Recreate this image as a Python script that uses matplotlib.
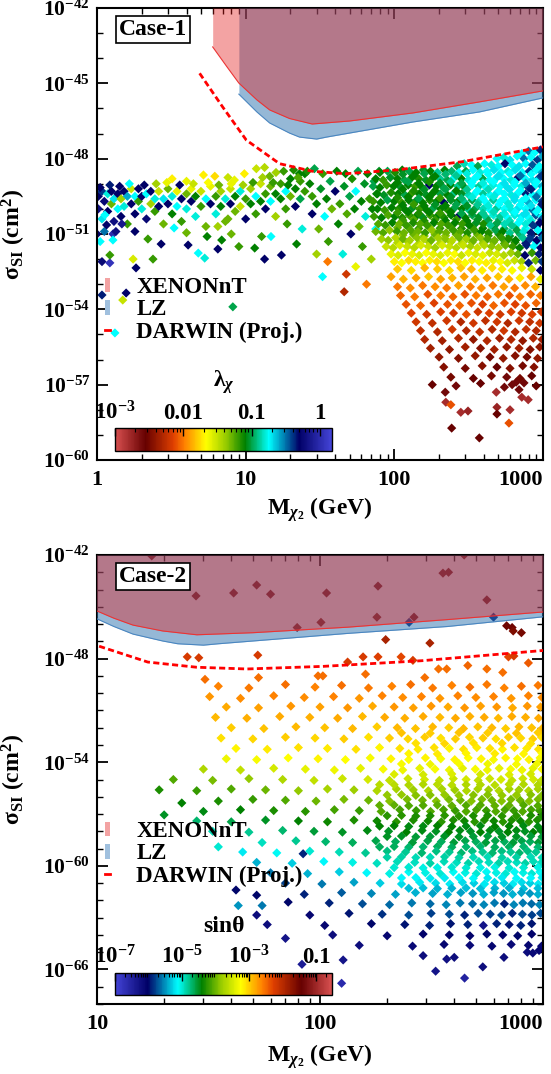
import numpy as np
import matplotlib
matplotlib.use("Agg")
import matplotlib.pyplot as plt
from matplotlib.colors import LinearSegmentedColormap, LogNorm
from matplotlib.cm import ScalarMappable
from matplotlib.patches import Patch
from matplotlib.lines import Line2D
from matplotlib.ticker import FixedLocator, LogLocator, NullFormatter

# ---------------- curves: mass (GeV), log10 sigma (cm^2) ----------------
xenon_m = [6.0, 7.5, 9.0, 11.9, 14.5, 19.7, 28, 50, 133, 373, 1000]
xenon_e = [-43.55, -44.35, -44.99, -45.66, -46.06, -46.4, -46.62, -46.5, -46.18, -45.74, -45.3]
lz_m = [9.0, 11.9, 14.5, 19.7, 23, 30, 35, 133, 373, 1000]
lz_e = [-45.43, -46.14, -46.58, -46.98, -47.14, -47.22, -47.14, -46.54, -46.14, -45.58]
darwin_m = [4.9, 7.0, 10.1, 16.9, 28, 47, 103, 287, 1000]
darwin_e = [-44.6, -45.94, -47.26, -48.2, -48.5, -48.6, -48.45, -48.12, -47.53]

# ---------------- Case-1 points: (mass GeV, log10 sigma, log10 lambda) ----------------
c1_band_top = [(3.2,-48.8,-1.7),(4.0,-48.9,-1.6),(5.2,-48.65,-1.7),(6.2,-48.7,-1.75),(7.6,-48.75,-1.5),(8.4,-48.85,-1.6),
    (9.8,-48.6,-1.7),(11.8,-48.4,-1.5),(13.4,-48.35,-1.45),(14.5,-48.7,-1.3),(16,-48.55,-1.4),(18,-48.5,-1.2),(21,-48.45,-1.15),(23,-48.6,-1.1)]
c1_band = [(1.02,-49.5,-0.3),(1.02,-50.0,-0.2),(1.08,-49.3,-0.4),(1.08,-50.4,-0.7),(1.12,-49.7,-0.25),(1.12,-50.9,-0.5),
    (1.18,-49.4,-0.8),(1.18,-50.1,-0.3),(1.25,-49.8,-1.3),(1.25,-49.3,-0.3),(1.3,-49.6,-0.7),(1.3,-50.5,-0.2),
    (1.38,-49.4,-0.3),(1.38,-50.0,-0.75),(1.45,-49.6,-1.4),(1.45,-50.3,-0.3),(1.52,-49.3,-0.3),(1.52,-49.9,-0.8),
    (1.6,-49.5,-0.6),(1.6,-50.6,-1.2),(1.7,-49.8,-0.3),(1.7,-49.2,-1.5),(1.8,-49.5,-0.75),(1.8,-50.2,-0.3),
    (1.9,-49.7,-1.2),(1.9,-49.2,-0.3),(2.0,-49.5,-0.3),(2.0,-50.0,-0.8),(2.15,-49.4,-0.75),(2.15,-50.4,-0.25),
    (2.3,-49.8,-1.4),(2.3,-49.3,-0.3),(2.45,-49.6,-0.8),(2.45,-50.1,-1.2),(2.6,-49.3,-1.5),(2.6,-49.9,-0.3),
    (2.8,-49.6,-0.7),(2.8,-50.6,-1.3),(3.0,-49.2,-1.3),(3.0,-49.8,-0.3),(3.2,-49.5,-0.8),(3.2,-50.2,-1.1),
    (3.45,-49.3,-1.6),(3.45,-49.9,-0.75),(3.7,-49.6,-0.3),(3.7,-50.5,-1.2),(4.0,-49.4,-1.3),(4.0,-50.0,-0.8),
    (4.3,-49.2,-1.6),(4.3,-49.7,-0.3),(4.6,-49.5,-1.1),(4.6,-50.3,-0.8),(5.0,-49.3,-1.5),(5.0,-49.9,-1.2),
    (5.4,-49.6,-0.75),(5.4,-50.7,-1.3),(5.8,-49.1,-1.6),(5.8,-49.8,-0.3),(6.3,-49.5,-1.2),(6.3,-50.2,-0.8),
    (6.8,-49.3,-1.4),(6.8,-49.9,-1.1),(7.3,-49.6,-0.8),(7.3,-50.5,-1.3),(7.9,-49.2,-1.5),(7.9,-49.8,-0.3),
    (8.5,-49.5,-1.1),(8.5,-50.1,-1.3),(9.2,-49.3,-0.8),(9.2,-49.9,-1.5),(10,-49.6,-1.2),(10,-50.4,-0.3),
    (10.8,-49.2,-1.4),(10.8,-49.8,-1.1),(11.7,-49.5,-0.75),(11.7,-50.2,-1.2),(12.6,-49.0,-1.5),(12.6,-49.7,-1.1),
    (13.6,-49.4,-1.2),(13.6,-50.0,-0.3),(14.7,-49.1,-1.3),(14.7,-49.7,-0.75),(15.9,-49.4,-1.1),(15.9,-50.3,-1.4),
    (17.2,-49.0,-1.2),(17.2,-49.6,-1.1),(18.6,-49.3,-0.75),(18.6,-50.0,-1.2),(20,-48.8,-1.1),(20,-49.5,-1.3),
    (21.6,-49.2,-1.1),(21.6,-49.9,-0.3),(23.3,-48.9,-1.2),(23.3,-49.6,-1.0),(25,-48.6,-1.1),(25,-49.3,-1.2),
    (1.05,-49.15,-0.3),(1.22,-49.05,-0.35),(1.42,-49.1,-0.3),(1.65,-49.0,-0.75),(2.08,-49.05,-0.3),(2.5,-49.0,-1.4),
    (2.95,-48.95,-1.6),(3.6,-49.05,-0.3),(4.45,-49.0,-1.5),(5.6,-48.95,-1.65),(6.6,-49.05,-1.3),(8.0,-49.0,-1.6),
    (9.6,-49.05,-1.4),(11.2,-48.95,-1.2),(13.0,-48.75,-1.4),(15.3,-48.95,-1.2),(19.3,-49.05,-1.1),(22.5,-48.75,-1.25)]
c1_band_low = [(1.13,-50.24,-0.75),(1.16,-50.64,-0.3),(1.0,-51.0,-0.3),(1.47,-50.6,-0.15),(1.28,-51.0,0.0),(1.34,-50.9,-0.2),
    (4.8,-51.76,-0.75),(5.3,-51.96,-0.8),(4.1,-51.44,-0.3),(6.5,-51.6,-0.3),(3.3,-50.76,-0.75),(4.0,-50.95,-1.3),
    (5.5,-51.1,-1.1),(6.9,-51.24,-1.1),(8.0,-51.0,-1.3),(11.5,-51.56,-1.1),(13.4,-52.0,-0.3),(17.4,-51.84,-0.3),
    (14.8,-51.1,-0.75),(12.8,-51.1,-1.2),(6.5,-50.7,-1.4),(7.6,-50.4,-1.3),(2.2,-51.2,-1.2),(2.7,-51.4,-0.3),
    (9.0,-51.5,-1.2),(19,-50.6,-1.2),(22,-51.4,-1.1),(24,-50.8,-0.8),(1.05,-51.3,-0.75),(1.8,-50.9,-0.3)]
c1_outliers = [(1.08,-52.1,-0.25),(1.22,-52.15,0.05),(1.22,-51.84,-1.2),(1.28,-51.24,-0.75),(1.75,-52.0,-1.55),
    (2.38,-52.0,-1.2),(1.83,-52.35,-0.3),(1.08,-53.43,-0.35),(1.57,-53.35,-0.3),(1.49,-53.63,-1.5),(8.2,-53.9,-1.0),(1.32,-54.94,-0.75)]
c1_mid = [(26,-48.5,-1.15),(27,-49.0,-1.1),(28,-49.5,-1.2),(28,-50.2,-0.3),(29,-48.4,-1.0),(30,-49.8,-1.1),(31,-50.8,-1.3),
    (32,-49.2,-1.05),(33,-48.6,-1.2),(34,-50.3,-0.75),(35,-49.6,-1.1),(36,-51.3,-1.2),(37,-48.9,-1.0),(38,-50.0,-1.3),
    (40,-49.3,-0.3),(41,-48.5,-1.1),(42,-50.6,-1.1),(43,-49.8,-1.2),(45,-51.8,-0.8),(46,-49.1,-1.05),(47,-48.6,-1.1),
    (48,-50.2,-1.25),(50,-49.5,-1.0),(51,-51.0,-0.3),(52,-48.8,-1.15),(54,-50.0,-1.1),(55,-49.3,-0.75),(57,-48.5,-1.0),
    (58,-50.7,-1.3),(60,-49.7,-1.1),(61,-51.5,-1.2),(63,-49.0,-1.05),(64,-50.3,-0.8),(66,-48.6,-1.1),(68,-49.6,-1.2),
    (70,-52.0,-1.4),(71,-50.0,-1.1),(73,-48.9,-1.0),(75,-50.8,-0.75),(77,-49.4,-1.1),(79,-48.5,-1.05),
    (32.9,-52.7,-0.75),(47.5,-52.6,-2.2),(46,-53.3,-2.3),(35.6,-52.1,-2.0),(30,-51.8,-1.4),(55,-52.3,-1.6),(65,-53.0,-2.0)]
c1_cloud_upper = [(720,-47.8,-0.75),(800,-47.7,-0.5),(880,-47.75,-0.75),(960,-47.65,-0.35),
    (490,-48.0,-0.75),(545,-47.95,-0.8),(600,-48.05,-0.7),(670,-47.9,-0.75),(745,-48.0,-0.5),(830,-47.95,-0.75),(920,-48.05,-0.4),(990,-47.9,-0.6),
    (265,-48.3,-1.0),(295,-48.2,-0.85),(330,-48.25,-0.75),(365,-48.3,-1.0),(405,-48.2,-0.75),(450,-48.25,-0.8),(500,-48.3,-0.75),
    (555,-48.2,-0.3),(620,-48.25,-0.75),(690,-48.3,-0.7),(765,-48.2,-0.75),(850,-48.25,-0.45),(945,-48.3,-0.75),
    (80,-48.55,-1.1),(90,-48.5,-1.0),(101,-48.55,-1.15),(113,-48.45,-1.1),(126,-48.5,-1.0),(140,-48.55,-1.1),(157,-48.45,-1.05),
    (175,-48.5,-1.1),(195,-48.55,-0.9),(218,-48.45,-1.1),(243,-48.5,-0.95),(272,-48.55,-0.75),(303,-48.5,-1.0),(338,-48.45,-0.75),
    (377,-48.55,-0.8),(420,-48.5,-0.75),(468,-48.45,-0.7),(522,-48.55,-0.75),(582,-48.5,-0.8),(650,-48.45,-0.7),(725,-48.55,-0.75),
    (808,-48.5,-0.4),(900,-48.45,-0.75),(985,-48.55,-0.6),
    (75,-48.8,-1.1),(84,-48.85,-1.2),(94,-48.75,-1.05),(105,-48.8,-1.1),(117,-48.85,-1.0),(131,-48.75,-1.1),(146,-48.8,-1.15),
    (163,-48.85,-1.05),(182,-48.75,-1.1),(203,-48.8,-0.9),(227,-48.85,-1.0),(253,-48.75,-0.75),(283,-48.8,-1.1),(316,-48.85,-0.8),
    (352,-48.75,-0.75),(393,-48.8,-1.0),(438,-48.85,-0.75),(489,-48.75,-0.7),(546,-48.8,-0.75),(609,-48.85,-0.8),(680,-48.75,-0.3),
    (759,-48.8,-0.75),(847,-48.85,-0.7),(945,-48.75,-0.45),
    (72,-49.1,-1.0),(80,-49.15,-1.1),(89,-49.05,-1.2),(99,-49.1,-1.1),(111,-49.15,-1.05),(124,-49.05,-1.1),(138,-49.1,-1.2),
    (154,-49.15,-1.1),(172,-49.05,-0.3),(192,-49.1,-1.1),(214,-49.15,-1.0),(239,-49.05,-1.1),(267,-49.1,-0.9),(298,-49.15,-1.05),
    (333,-49.05,-0.75),(371,-49.1,-0.9),(414,-49.15,-0.75),(462,-49.05,-0.8),(516,-49.1,-0.75),(576,-49.15,-0.7),(643,-49.05,-0.75),
    (717,-49.1,-0.8),(800,-49.15,-0.4),(893,-49.05,-0.75),(985,-49.1,-0.6)]
c1_cloud_mid = [(76,-49.4,-1.1),(85,-49.45,-1.05),(95,-49.35,-1.15),(106,-49.4,-1.1),(118,-49.45,-1.0),(132,-49.35,-1.2),
    (147,-49.4,-1.1),(164,-49.45,-1.05),(183,-49.35,-1.1),(204,-49.4,-1.0),(228,-49.45,-1.1),(254,-49.35,-0.9),(284,-49.4,-1.05),
    (317,-49.45,-0.85),(354,-49.35,-0.75),(395,-49.4,-0.9),(440,-49.45,-0.75),(491,-49.35,-0.7),(548,-49.4,-0.75),(612,-49.45,-0.8),
    (683,-49.35,-0.75),(762,-49.4,-0.35),(850,-49.45,-0.75),(948,-49.35,-0.7),
    (72,-49.7,-1.2),(81,-49.75,-1.1),(90,-49.65,-1.0),(100,-49.7,-1.1),(112,-49.75,-1.2),(125,-49.65,-1.1),(139,-49.7,-1.05),
    (155,-49.75,-1.1),(173,-49.65,-1.15),(193,-49.7,-1.1),(215,-49.75,-0.3),(240,-49.65,-1.05),(268,-49.7,-1.1),(299,-49.75,-0.9),
    (334,-49.65,-1.0),(372,-49.7,-0.85),(415,-49.75,-0.75),(463,-49.65,-0.9),(517,-49.7,-0.75),(577,-49.75,-0.8),(644,-49.65,-0.7),
    (718,-49.7,-0.75),(801,-49.75,-0.6),(894,-49.65,-0.75),(985,-49.7,-0.4),
    (77,-50.0,-1.1),(86,-50.05,-1.2),(96,-49.95,-1.1),(107,-50.0,-1.15),(119,-50.05,-1.1),(133,-49.95,-1.05),(148,-50.0,-1.2),
    (165,-50.05,-1.1),(184,-49.95,-1.0),(205,-50.0,-1.1),(229,-50.05,-1.15),(255,-49.95,-1.0),(285,-50.0,-1.1),(318,-50.05,-0.9),
    (355,-49.95,-1.0),(396,-50.0,-0.85),(442,-50.05,-0.75),(493,-49.95,-0.9),(550,-50.0,-0.75),(614,-50.05,-0.8),(685,-49.95,-0.7),
    (764,-50.0,-0.75),(853,-50.05,-0.5),(951,-49.95,-0.75),
    (73,-50.3,-1.2),(82,-50.35,-1.1),(91,-50.25,-1.25),(101,-50.3,-1.1),(113,-50.35,-1.15),(126,-50.25,-1.2),(140,-50.3,-1.1),
    (156,-50.35,-1.05),(174,-50.25,-1.2),(194,-50.3,-1.1),(216,-50.35,-1.15),(241,-50.25,-1.1),(269,-50.3,-0.3),(300,-50.35,-1.1),
    (335,-50.25,-1.0),(373,-50.3,-1.05),(416,-50.35,-0.9),(464,-50.25,-0.8),(518,-50.3,-0.9),(578,-50.35,-0.75),(645,-50.25,-0.8),
    (719,-50.3,-0.7),(802,-50.35,-0.75),(895,-50.25,-0.45),(985,-50.3,-0.75)]
c1_cloud_fill = [(114,-48.62,-1.05),(135,-48.68,-1.1),(159,-48.6,-1.0),(188,-48.7,-1.1),(221,-48.62,-0.95),(261,-48.68,-0.9),
    (308,-48.6,-0.8),(363,-48.7,-0.75),(429,-48.62,-0.75),(506,-48.68,-0.7),(597,-48.6,-0.75),(705,-48.68,-0.5),(832,-48.62,-0.75),(980,-48.68,-0.4),
    (105,-48.95,-1.1),(124,-48.92,-1.0),(146,-48.98,-1.1),(172,-48.93,-1.15),(203,-48.97,-1.05),(240,-48.92,-0.9),(283,-48.98,-1.0),
    (334,-48.93,-0.75),(394,-48.97,-0.8),(465,-48.92,-0.75),(549,-48.98,-0.7),(648,-48.93,-0.75),(765,-48.97,-0.6),(903,-48.92,-0.75),
    (114,-49.22,-1.1),(135,-49.28,-1.15),(159,-49.23,-1.05),(188,-49.27,-1.1),(221,-49.22,-1.0),(261,-49.28,-1.1),(308,-49.23,-0.9),
    (363,-49.27,-0.75),(429,-49.22,-0.85),(506,-49.28,-0.75),(597,-49.23,-0.7),(705,-49.27,-0.75),(832,-49.22,-0.35),(980,-49.28,-0.75),
    (105,-49.55,-1.15),(124,-49.52,-1.1),(146,-49.58,-1.0),(172,-49.53,-1.1),(203,-49.57,-1.2),(240,-49.52,-1.05),(283,-49.58,-0.95),
    (334,-49.53,-0.8),(394,-49.57,-0.75),(465,-49.52,-0.8),(549,-49.58,-0.75),(648,-49.53,-0.7),(765,-49.57,-0.75),(903,-49.52,-0.5),
    (114,-49.85,-1.1),(135,-49.82,-1.2),(159,-49.88,-1.1),(188,-49.83,-1.05),(221,-49.87,-1.1),(261,-49.82,-1.0),(308,-49.88,-1.05),
    (363,-49.83,-0.9),(429,-49.87,-0.8),(506,-49.82,-0.75),(597,-49.88,-0.8),(705,-49.83,-0.75),(832,-49.87,-0.7),(980,-49.82,-0.35),
    (105,-50.15,-1.2),(124,-50.12,-1.1),(146,-50.18,-1.15),(172,-50.13,-1.1),(203,-50.17,-1.2),(240,-50.12,-1.1),(283,-50.18,-1.0),
    (334,-50.13,-1.05),(394,-50.17,-0.9),(465,-50.12,-0.85),(549,-50.18,-0.8),(648,-50.13,-0.75),(765,-50.17,-0.7),(903,-50.12,-0.75),
    (114,-50.45,-1.2),(135,-50.42,-1.25),(159,-50.48,-1.15),(188,-50.43,-1.2),(221,-50.47,-1.1),(261,-50.42,-1.2),(308,-50.48,-1.1),
    (363,-50.43,-1.05),(429,-50.47,-1.0),(506,-50.42,-0.9),(597,-50.48,-0.85),(705,-50.43,-0.75),(832,-50.47,-0.8),(980,-50.42,-0.45),
    (105,-50.75,-1.3),(124,-50.72,-1.25),(146,-50.78,-1.2),(172,-50.73,-1.3),(203,-50.77,-1.2),(240,-50.72,-1.25),(283,-50.78,-1.15),
    (334,-50.73,-1.2),(394,-50.77,-1.1),(465,-50.72,-1.05),(549,-50.78,-0.95),(648,-50.73,-0.9),(765,-50.77,-0.75),(903,-50.72,-0.35),
    (114,-51.05,-1.35),(135,-51.02,-1.3),(159,-51.08,-1.35),(188,-51.03,-1.3),(221,-51.07,-1.35),(261,-51.02,-1.3),(308,-51.08,-1.25),
    (363,-51.03,-1.3),(429,-51.07,-1.2),(506,-51.02,-1.15),(597,-51.08,-1.05),(705,-51.03,-0.95),(832,-51.07,-0.4),(980,-51.02,-0.3),
    (105,-51.35,-1.45),(124,-51.32,-1.4),(146,-51.38,-1.45),(172,-51.33,-1.4),(203,-51.37,-1.45),(240,-51.32,-1.4),(283,-51.38,-1.45),
    (334,-51.33,-1.35),(394,-51.37,-1.4),(465,-51.32,-1.3),(549,-51.38,-1.25),(648,-51.33,-1.15),(765,-51.37,-0.35),(903,-51.32,-0.75)]
c1_cloud_low = [(78,-50.6,-1.25),(87,-50.65,-1.2),(97,-50.55,-1.1),(108,-50.6,-1.3),(120,-50.65,-1.2),(134,-50.55,-1.15),
    (149,-50.6,-1.25),(166,-50.65,-1.2),(185,-50.55,-1.1),(206,-50.6,-1.25),(230,-50.65,-1.2),(256,-50.55,-1.1),(286,-50.6,-1.2),
    (319,-50.65,-1.1),(356,-50.55,-1.05),(397,-50.6,-1.15),(443,-50.65,-0.9),(494,-50.55,-1.0),(551,-50.6,-0.85),(615,-50.65,-0.9),
    (686,-50.55,-0.75),(765,-50.6,-0.8),(854,-50.65,-0.4),(952,-50.55,-0.3),
    (75,-50.9,-1.3),(84,-50.95,-1.25),(93,-50.85,-1.35),(104,-50.9,-1.2),(116,-50.95,-1.3),(129,-50.85,-1.25),(144,-50.9,-1.3),
    (161,-50.95,-1.2),(179,-50.85,-1.35),(200,-50.9,-1.25),(223,-50.95,-1.3),(249,-50.85,-1.2),(278,-50.9,-1.25),(310,-50.95,-1.15),
    (346,-50.85,-1.2),(386,-50.9,-1.1),(430,-50.95,-1.15),(480,-50.85,-1.0),(535,-50.9,-1.1),(597,-50.95,-0.9),(666,-50.85,-1.0),
    (743,-50.9,-0.8),(829,-50.95,-0.35),(925,-50.85,-0.75),
    (82,-51.2,-1.4),(91,-51.25,-1.35),(102,-51.15,-1.45),(114,-51.2,-1.3),(127,-51.25,-1.4),(142,-51.15,-1.35),(158,-51.2,-1.45),
    (177,-51.25,-1.3),(197,-51.15,-1.4),(220,-51.2,-1.35),(245,-51.25,-1.45),(273,-51.15,-1.3),(305,-51.2,-1.4),(340,-51.25,-1.3),
    (379,-51.15,-1.35),(423,-51.2,-1.25),(472,-51.25,-1.3),(526,-51.15,-1.2),(587,-51.2,-1.15),(655,-51.25,-1.1),(731,-51.15,-0.9),
    (815,-51.2,-0.4),(909,-51.25,-0.3),(985,-51.15,-0.5),
    (88,-51.5,-1.5),(98,-51.55,-1.45),(109,-51.45,-1.55),(122,-51.5,-1.5),(136,-51.55,-1.45),(151,-51.45,-1.55),(169,-51.5,-1.5),
    (188,-51.55,-1.4),(210,-51.45,-1.55),(234,-51.5,-1.5),(261,-51.55,-1.45),(291,-51.45,-1.5),(324,-51.5,-1.4),(362,-51.55,-1.5),
    (403,-51.45,-1.45),(450,-51.5,-1.35),(502,-51.55,-1.4),(559,-51.45,-1.3),(624,-51.5,-1.2),(696,-51.55,-1.1),(776,-51.45,-0.35),
    (866,-51.5,-0.75),(965,-51.55,-0.3),
    (95,-51.8,-1.6),(106,-51.85,-1.55),(118,-51.75,-1.65),(132,-51.8,-1.6),(147,-51.85,-1.55),(164,-51.75,-1.65),(183,-51.8,-1.6),
    (204,-51.85,-1.55),(228,-51.75,-1.6),(254,-51.8,-1.65),(283,-51.85,-1.5),(316,-51.75,-1.6),(352,-51.8,-1.55),(393,-51.85,-1.6),
    (438,-51.75,-1.5),(489,-51.8,-1.55),(545,-51.85,-1.45),(608,-51.75,-1.4),(678,-51.8,-1.3),(756,-51.85,-0.3),(843,-51.75,-1.2),(940,-51.8,-0.35),
    (100,-52.1,-1.7),(112,-52.15,-1.65),(125,-52.05,-1.75),(139,-52.1,-1.7),(155,-52.15,-1.65),(173,-52.05,-1.7),(193,-52.1,-1.75),
    (215,-52.15,-1.65),(240,-52.05,-1.7),(268,-52.1,-1.75),(299,-52.15,-1.65),(333,-52.05,-1.7),(372,-52.1,-1.65),(415,-52.15,-1.7),
    (463,-52.05,-1.6),(516,-52.1,-1.65),(576,-52.15,-1.55),(643,-52.05,-1.5),(717,-52.1,-1.4),(800,-52.15,-0.35),(893,-52.05,-1.3),(985,-52.1,-0.4),
    (105,-52.4,-1.8),(130,-52.45,-1.75),(160,-52.35,-1.85),(195,-52.4,-1.8),(235,-52.45,-1.75),(280,-52.35,-1.8),(330,-52.4,-1.85),
    (390,-52.45,-1.7),(455,-52.35,-1.75),(530,-52.4,-1.7),(620,-52.45,-1.65),(720,-52.35,-1.6),(840,-52.4,-1.5),(960,-52.45,-0.3)]
c1_tail = [(95,-52.7,-1.9),(115,-52.8,-1.85),(140,-52.75,-1.9),(170,-52.7,-1.8),(205,-52.8,-1.9),(245,-52.75,-1.85),(295,-52.7,-1.9),
    (350,-52.8,-1.85),(420,-52.75,-1.9),(500,-52.7,-1.8),(590,-52.8,-1.85),(700,-52.75,-1.7),(830,-52.7,-1.9),(960,-52.8,-1.6),
    (105,-53.1,-2.0),(128,-53.15,-1.95),(155,-53.05,-2.0),(188,-53.1,-1.95),(225,-53.15,-2.0),(270,-53.05,-1.9),(325,-53.1,-2.0),
    (385,-53.15,-1.95),(460,-53.05,-2.0),(545,-53.1,-1.9),(645,-53.15,-2.0),(760,-53.05,-1.95),(890,-53.1,-1.85),
    (110,-53.45,-2.05),(137,-53.5,-2.0),(168,-53.4,-2.1),(205,-53.45,-2.0),(248,-53.5,-2.05),(298,-53.4,-2.1),(355,-53.45,-2.0),
    (422,-53.5,-2.05),(500,-53.4,-2.0),(595,-53.45,-2.1),(700,-53.5,-2.0),(825,-53.4,-2.05),(960,-53.45,-2.0),
    (120,-53.8,-2.1),(150,-53.85,-2.05),(185,-53.75,-2.15),(228,-53.8,-2.1),(275,-53.85,-2.05),(330,-53.75,-2.1),(392,-53.8,-2.15),
    (465,-53.85,-2.05),(550,-53.75,-2.1),(650,-53.8,-2.15),(765,-53.85,-2.1),(900,-53.75,-2.05),
    (130,-54.15,-2.15),(165,-54.2,-2.2),(205,-54.1,-2.15),(250,-54.15,-2.2),(305,-54.2,-2.1),(365,-54.1,-2.2),(435,-54.15,-2.15),
    (515,-54.2,-2.2),(610,-54.1,-2.15),(720,-54.15,-2.2),(845,-54.2,-2.15),(975,-54.1,-2.2),
    (140,-54.5,-2.2),(180,-54.55,-2.25),(225,-54.45,-2.2),(280,-54.5,-2.3),(340,-54.55,-2.2),(410,-54.45,-2.25),(490,-54.5,-2.2),
    (580,-54.55,-2.3),(690,-54.45,-2.2),(815,-54.5,-2.25),(950,-54.55,-2.2),
    (150,-54.85,-2.25),(195,-54.9,-2.3),(245,-54.8,-2.2),(305,-54.85,-2.3),(375,-54.9,-2.25),(455,-54.8,-2.3),(545,-54.85,-2.2),
    (650,-54.9,-2.3),(770,-54.8,-2.25),(900,-54.85,-2.3),
    (160,-55.2,-2.3),(210,-55.25,-2.35),(270,-55.15,-2.3),(340,-55.2,-2.4),(420,-55.25,-2.3),(510,-55.15,-2.35),(610,-55.2,-2.3),
    (730,-55.25,-2.4),(860,-55.15,-2.3),(985,-55.2,-2.35),
    (175,-55.55,-2.35),(235,-55.6,-2.4),(300,-55.5,-2.35),(380,-55.55,-2.45),(470,-55.6,-2.35),(570,-55.5,-2.4),(690,-55.55,-2.35),
    (820,-55.6,-2.45),(950,-55.5,-2.4),
    (200,-55.9,-2.4),(270,-55.95,-2.45),(350,-55.85,-2.4),(440,-55.9,-2.5),(540,-55.95,-2.4),(650,-55.85,-2.45),(780,-55.9,-2.5),(920,-55.95,-2.4),
    (215,-56.3,-2.45),(300,-56.35,-2.5),(390,-56.25,-2.45),(490,-56.3,-2.55),(600,-56.35,-2.45),(730,-56.25,-2.5),(870,-56.3,-2.45),
    (240,-56.7,-2.5),(340,-56.75,-2.55),(450,-56.65,-2.5),(570,-56.7,-2.6),(700,-56.75,-2.5),(840,-56.65,-2.55),
    (180,-57.0,-2.55),(260,-57.05,-2.6),(380,-56.95,-2.55),(620,-57.0,-2.6),(900,-57.05,-2.55),
    (220,-57.3,-2.6),(222,-57.7,-2.8),(240,-57.8,-2.1),(280,-58.1,-2.8),(313,-58.05,-2.75),(243,-58.73,-2.55),(373,-59.12,-2.55),
    (485,-57.3,-2.8),(490,-57.9,-2.75),(490,-58.17,-2.55),(600,-58.0,-2.8),(590,-58.53,-2.1),(550,-57.1,-2.6),(660,-56.9,-2.6),
    (690,-57.2,-2.6),(720,-57.5,-2.8),(745,-56.93,-2.6),(795,-57.6,-2.8)]

# ---------------- Case-2 points: (mass GeV, log10 sigma, log10 sin theta) ----------------
c2_excluded = [(17.6,-42.05,-1.4),(27.8,-44.37,-1.5),(41,-44.2,-1.5),(52,-43.74,-1.5),(60,-44.27,-1.5),(107,-44.2,-1.5),
    (79,-46.2,-1.6),(101,-45.9,-1.6),(182,-43.8,-1.5),(180,-45.6,-1.6),(251,-45.9,-5.9),(264,-45.6,-1.5),(356,-43.05,-1.5),
    (377,-43.0,-1.5),(443,-42.0,-1.5),(560,-44.6,-1.5),(600,-45.6,-5.9),
    (687,-46.1,-1.5),(727,-46.2,-1.5),(735,-46.4,-1.6),(800,-46.5,-1.55),(197,-46.9,-1.9),(311,-47.1,-1.9)]
c2_orange = [(133,-48.2,-2.2),(156,-47.9,-2.2),(182,-47.9,-2.25),(231,-47.9,-2.3),(261,-48.1,-2.2),(700,-47.9,-2.3),
    (740,-47.85,-2.2),(860,-48.25,-2.4),(103,-49.0,-2.5),(160,-48.9,-2.5),(295,-49.1,-2.5),(340,-48.6,-2.5),(370,-48.6,-2.5),
    (460,-48.4,-2.45),(560,-48.6,-2.5),(660,-48.8,-2.5),(25.4,-47.9,-2.2),(28.6,-47.95,-2.2),(52.6,-47.8,-2.2),(30.5,-49.2,-2.5),
    (53,-49.1,-2.5),(98,-49.0,-2.5),
    (35,-49.6,-2.6),(48,-49.7,-2.55),(70,-49.5,-2.5),(95,-49.65,-2.6),(125,-49.55,-2.5),(165,-49.7,-2.55),(210,-49.6,-2.6),
    (255,-49.5,-2.5),(320,-49.7,-2.55),(390,-49.55,-2.6),(470,-49.65,-2.5),(560,-49.5,-2.55),(670,-49.7,-2.6),(800,-49.6,-2.5),(950,-49.55,-2.55),
    (32,-50.2,-2.7),(44,-50.3,-2.65),(62,-50.15,-2.6),(85,-50.25,-2.65),(115,-50.2,-2.6),(150,-50.3,-2.7),(190,-50.15,-2.6),
    (235,-50.25,-2.65),(285,-50.2,-2.6),(345,-50.3,-2.7),(415,-50.15,-2.6),(500,-50.25,-2.65),(600,-50.2,-2.6),(720,-50.3,-2.7),
    (860,-50.15,-2.6),(990,-50.25,-2.65),
    (38,-50.8,-2.8),(53,-50.85,-2.75),(74,-50.75,-2.7),(100,-50.8,-2.75),(133,-50.85,-2.7),(172,-50.75,-2.8),(215,-50.8,-2.7),
    (262,-50.85,-2.75),(315,-50.75,-2.7),(375,-50.8,-2.8),(445,-50.85,-2.7),(525,-50.75,-2.75),(620,-50.8,-2.7),(730,-50.85,-2.8),
    (850,-50.75,-2.7),(975,-50.8,-2.75),
    (34,-51.4,-2.9),(47,-51.45,-2.85),(66,-51.35,-2.8),(90,-51.4,-2.85),(120,-51.45,-2.8),(155,-51.35,-2.9),(195,-51.4,-2.8),
    (240,-51.45,-2.85),(290,-51.35,-2.8),(345,-51.4,-2.9),(405,-51.45,-2.8),(470,-51.35,-2.85),(545,-51.4,-2.8),(630,-51.45,-2.9),
    (725,-51.35,-2.8),(835,-51.4,-2.85),(955,-51.45,-2.8),
    (40,-52.0,-3.0),(56,-52.05,-2.95),(78,-51.95,-2.9),(105,-52.0,-2.95),(140,-52.05,-2.9),(180,-51.95,-3.0),(222,-52.0,-2.9),
    (268,-52.05,-2.95),(320,-51.95,-2.9),(378,-52.0,-3.0),(440,-52.05,-2.9),(510,-51.95,-2.95),(590,-52.0,-2.9),(680,-52.05,-3.0),
    (780,-51.95,-2.9),(890,-52.0,-2.95),(990,-52.05,-2.9)]
c2_yellow = [(36,-52.6,-3.1),(50,-52.65,-3.05),(70,-52.55,-3.0),(95,-52.6,-3.05),(128,-52.65,-3.0),(165,-52.55,-3.1),(205,-52.6,-3.0),
    (248,-52.65,-3.05),(295,-52.55,-3.0),(348,-52.6,-3.1),(405,-52.65,-3.0),(468,-52.55,-3.05),(538,-52.6,-3.0),(615,-52.65,-3.1),
    (700,-52.55,-3.0),(795,-52.6,-3.05),(900,-52.65,-3.0),(985,-52.55,-3.1),
    (42,-53.2,-3.2),(58,-53.25,-3.15),(80,-53.15,-3.1),(108,-53.2,-3.15),(145,-53.25,-3.1),(185,-53.15,-3.2),(228,-53.2,-3.1),
    (275,-53.25,-3.15),(325,-53.15,-3.1),(380,-53.2,-3.2),(440,-53.25,-3.1),(505,-53.15,-3.15),(578,-53.2,-3.1),(658,-53.25,-3.2),
    (745,-53.15,-3.1),(845,-53.2,-3.15),(955,-53.25,-3.1),
    (38,-53.8,-3.35),(52,-53.85,-3.3),(72,-53.75,-3.25),(98,-53.8,-3.2),(130,-53.85,-3.25),(168,-53.75,-3.3),(208,-53.8,-3.2),
    (250,-53.85,-3.25),(297,-53.75,-3.2),(348,-53.8,-3.3),(402,-53.85,-3.2),(462,-53.75,-3.25),(528,-53.8,-3.2),(600,-53.85,-3.3),
    (680,-53.75,-3.2),(768,-53.8,-3.25),(865,-53.85,-3.2),(970,-53.75,-3.3),
    (30,-54.4,-3.7),(44,-54.45,-3.6),(62,-54.35,-3.5),(86,-54.4,-3.4),(116,-54.45,-3.35),(152,-54.35,-3.4),(192,-54.4,-3.3),
    (235,-54.45,-3.35),(280,-54.35,-3.4),(328,-54.4,-3.3),(380,-54.45,-3.35),(436,-54.35,-3.4),(497,-54.4,-3.3),(563,-54.45,-3.35),
    (636,-54.35,-3.4),(716,-54.4,-3.3),(805,-54.45,-3.35),(902,-54.35,-3.4),(990,-54.4,-3.3),
    (22,-55.0,-4.1),(33,-55.05,-3.95),(48,-54.95,-3.85),(68,-55.0,-3.7),(94,-55.05,-3.6),(126,-54.95,-3.55),(164,-55.0,-3.5),
    (205,-55.05,-3.6),(248,-54.95,-3.55),(294,-55.0,-3.5),(343,-55.05,-3.6),(396,-54.95,-3.55),(452,-55.0,-3.5),(512,-55.05,-3.6),
    (577,-54.95,-3.55),(648,-55.0,-3.5),(726,-55.05,-3.6),(812,-54.95,-3.55),(906,-55.0,-3.5),(985,-55.05,-3.6)]
c2_yellow_fill = [(232,-52.3,-2.95),(312,-52.32,-3.0),(420,-52.28,-2.95),(565,-52.3,-3.0),(760,-52.32,-2.95),(950,-52.28,-3.0),
    (269,-52.9,-3.1),(362,-52.92,-3.05),(487,-52.88,-3.1),(655,-52.9,-3.05),(881,-52.92,-3.1),
    (250,-53.5,-3.2),(336,-53.52,-3.15),(452,-53.48,-3.2),(608,-53.5,-3.15),(818,-53.52,-3.2),(990,-53.48,-3.25),
    (232,-54.1,-3.3),(312,-54.12,-3.35),(420,-54.08,-3.3),(565,-54.1,-3.35),(760,-54.12,-3.3),(940,-54.08,-3.35),
    (215,-54.7,-3.45),(290,-54.72,-3.5),(390,-54.68,-3.45),(524,-54.7,-3.5),(705,-54.72,-3.45),(880,-54.68,-3.5)]
c2_green = [(19,-55.6,-4.3),(28,-55.65,-4.2),(40,-55.55,-4.1),(57,-55.6,-4.0),(80,-55.65,-3.85),(108,-55.55,-3.75),(142,-55.6,-3.8),
    (180,-55.65,-3.7),(220,-55.55,-3.75),(262,-55.6,-3.8),(306,-55.65,-3.7),(352,-55.55,-3.75),(402,-55.6,-3.8),(454,-55.65,-3.7),
    (510,-55.55,-3.75),(570,-55.6,-3.8),(635,-55.65,-3.7),(705,-55.55,-3.75),(780,-55.6,-3.8),(862,-55.65,-3.7),(950,-55.55,-3.75),
    (24,-56.36,-4.4),(35,-56.25,-4.3),(50,-56.15,-4.2),(70,-56.2,-4.1),(96,-56.25,-4.0),(128,-56.15,-3.95),(165,-56.2,-4.0),
    (205,-56.25,-3.9),(246,-56.15,-3.95),(288,-56.2,-4.0),(332,-56.25,-3.9),(378,-56.15,-3.95),(426,-56.2,-4.0),(477,-56.25,-3.9),
    (532,-56.15,-3.95),(590,-56.2,-4.0),(652,-56.25,-3.9),(718,-56.15,-3.95),(790,-56.2,-4.0),(867,-56.25,-3.9),(950,-56.15,-3.95),
    (20,-57.05,-4.5),(30,-56.85,-4.45),(44,-56.75,-4.4),(62,-56.8,-4.3),(86,-56.85,-4.25),(116,-56.75,-4.15),(150,-56.8,-4.2),
    (188,-56.85,-4.1),(228,-56.75,-4.15),(270,-56.8,-4.2),(313,-56.85,-4.1),(358,-56.75,-4.15),(404,-56.8,-4.2),(452,-56.85,-4.1),
    (503,-56.75,-4.15),(557,-56.8,-4.2),(614,-56.85,-4.1),(675,-56.75,-4.15),(740,-56.8,-4.2),(810,-56.85,-4.1),(885,-56.75,-4.15),(965,-56.8,-4.2),
    (28,-57.4,-4.7),(40,-57.45,-4.6),(57,-57.35,-4.5),(80,-57.4,-4.4),(108,-57.45,-4.35),(142,-57.35,-4.3),(180,-57.4,-4.35),
    (220,-57.45,-4.25),(262,-57.35,-4.3),(305,-57.4,-4.35),(350,-57.45,-4.25),(396,-57.35,-4.3),(444,-57.4,-4.35),(494,-57.45,-4.25),
    (546,-57.35,-4.3),(602,-57.4,-4.35),(661,-57.45,-4.25),(724,-57.35,-4.3),(792,-57.4,-4.35),(864,-57.45,-4.25),(942,-57.35,-4.3),
    (33,-58.0,-4.9),(48,-58.05,-4.8),(68,-57.95,-4.7),(94,-58.0,-4.55),(126,-58.05,-4.5),(163,-57.95,-4.45),(203,-58.0,-4.5),
    (244,-58.05,-4.4),(287,-57.95,-4.45),(331,-58.0,-4.5),(377,-58.05,-4.4),(424,-57.95,-4.45),(473,-58.0,-4.5),(524,-58.05,-4.4),
    (578,-57.95,-4.45),(635,-58.0,-4.5),(696,-58.05,-4.4),(760,-57.95,-4.45),(830,-58.0,-4.5),(903,-58.05,-4.4),(980,-57.95,-4.45),
    (35,-58.9,-5.0),(55,-58.65,-4.95),(78,-58.55,-4.8),(106,-58.6,-4.7),(140,-58.65,-4.65),(178,-58.55,-4.6),(218,-58.6,-4.65),
    (260,-58.65,-4.55),(304,-58.55,-4.6),(350,-58.6,-4.65),(398,-58.65,-4.55),(448,-58.55,-4.6),(500,-58.6,-4.65),(554,-58.65,-4.55),
    (611,-58.55,-4.6),(671,-58.6,-4.65),(735,-58.65,-4.55),(803,-58.55,-4.6),(875,-58.6,-4.65),(952,-58.65,-4.55)]
c2_green_fill = [(185,-55.3,-3.65),(250,-55.32,-3.7),(336,-55.28,-3.65),(452,-55.3,-3.7),(608,-55.32,-3.65),(818,-55.28,-3.7),
    (215,-55.3,-3.65),(290,-55.28,-3.7),(390,-55.32,-3.65),(524,-55.3,-3.7),(705,-55.28,-3.65),(949,-55.32,-3.7),
    (200,-55.9,-3.85),(269,-55.92,-3.9),(362,-55.88,-3.85),(487,-55.9,-3.9),(655,-55.92,-3.85),(881,-55.88,-3.9),
    (232,-55.88,-3.85),(312,-55.9,-3.9),(420,-55.92,-3.85),(565,-55.88,-3.9),(760,-55.9,-3.85),(990,-55.92,-3.9),
    (185,-56.5,-4.05),(250,-56.52,-4.1),(336,-56.48,-4.05),(452,-56.5,-4.1),(608,-56.52,-4.05),(818,-56.48,-4.1),
    (215,-56.48,-4.05),(290,-56.5,-4.1),(390,-56.52,-4.05),(524,-56.48,-4.1),(705,-56.5,-4.05),(949,-56.52,-4.1),
    (200,-57.1,-4.25),(269,-57.12,-4.3),(362,-57.08,-4.25),(487,-57.1,-4.3),(655,-57.12,-4.25),(881,-57.08,-4.3),
    (232,-57.08,-4.25),(312,-57.1,-4.3),(420,-57.12,-4.25),(565,-57.08,-4.3),(760,-57.1,-4.25),(990,-57.12,-4.3),
    (185,-57.7,-4.4),(250,-57.72,-4.45),(336,-57.68,-4.4),(452,-57.7,-4.45),(608,-57.72,-4.4),(818,-57.68,-4.45),
    (215,-57.68,-4.4),(290,-57.7,-4.45),(390,-57.72,-4.4),(524,-57.68,-4.45),(705,-57.7,-4.4),(949,-57.72,-4.45),
    (200,-58.3,-4.5),(269,-58.32,-4.55),(362,-58.28,-4.5),(487,-58.3,-4.55),(655,-58.32,-4.5),(881,-58.28,-4.55),
    (232,-58.28,-4.5),(312,-58.3,-4.55),(420,-58.32,-4.5),(565,-58.28,-4.55),(760,-58.3,-4.5),(990,-58.32,-4.55),
    (185,-58.9,-4.65),(250,-58.92,-4.7),(336,-58.88,-4.65),(452,-58.9,-4.7),(608,-58.92,-4.65),(818,-58.88,-4.7),
    (215,-58.88,-4.65),(290,-58.9,-4.7),(390,-58.92,-4.65),(524,-58.88,-4.7),(705,-58.9,-4.65),(949,-58.92,-4.7)]
c2_cyan = [(45,-59.2,-5.2),(64,-59.25,-5.1),(84,-59.3,-5.9),(90,-59.15,-5.0),(122,-59.2,-4.9),(160,-59.25,-4.8),(200,-59.15,-4.75),
    (242,-59.2,-4.8),(286,-59.25,-4.7),(332,-59.15,-4.75),(380,-59.2,-4.8),(430,-59.25,-4.7),(482,-59.15,-4.75),(536,-59.2,-4.8),
    (593,-59.25,-4.7),(653,-59.15,-4.75),(716,-59.2,-4.8),(783,-59.25,-4.7),(854,-59.15,-4.75),(930,-59.2,-4.8),
    (52,-59.8,-5.4),(75,-59.85,-5.3),(104,-59.75,-5.15),(140,-59.8,-5.05),(180,-59.85,-4.95),(222,-59.75,-4.9),(266,-59.8,-4.95),
    (312,-59.85,-4.85),(360,-59.75,-4.9),(410,-59.8,-4.95),(462,-59.85,-4.85),(516,-59.75,-4.9),(572,-59.8,-4.95),(632,-59.85,-4.85),
    (695,-59.75,-4.9),(762,-59.8,-4.95),(832,-59.85,-4.85),(906,-59.75,-4.9),(985,-59.8,-4.95),
    (60,-60.4,-5.6),(88,-60.45,-5.4),(122,-60.35,-5.3),(162,-60.4,-5.15),(205,-60.45,-5.05),(250,-60.35,-5.1),(297,-60.4,-5.05),
    (346,-60.45,-5.0),(396,-60.35,-5.1),(448,-60.4,-5.05),(502,-60.45,-5.0),(558,-60.35,-5.1),(617,-60.4,-5.05),(679,-60.45,-5.0),
    (745,-60.35,-5.1),(815,-60.4,-5.05),(890,-60.45,-5.0),(968,-60.35,-5.1),
    (70,-61.0,-5.8),(102,-61.05,-5.6),(142,-60.95,-5.45),(186,-61.0,-5.3),(232,-61.05,-5.25),(280,-60.95,-5.2),(330,-61.0,-5.25),
    (382,-61.05,-5.2),(435,-60.95,-5.25),(490,-61.0,-5.3),(547,-61.05,-5.2),(606,-60.95,-5.25),(668,-61.0,-5.3),(733,-61.05,-5.2),
    (802,-60.95,-5.25),(875,-61.0,-5.3),(952,-61.05,-5.2)]
c2_cyan_fill = [(200,-59.5,-4.85),(269,-59.52,-4.9),(362,-59.48,-4.85),(487,-59.5,-4.9),(655,-59.52,-4.85),(881,-59.48,-4.9),
    (232,-59.48,-4.85),(312,-59.5,-4.9),(420,-59.52,-4.85),(565,-59.48,-4.9),(760,-59.5,-4.85),(990,-59.52,-4.9),
    (215,-60.1,-5.0),(290,-60.12,-5.05),(390,-60.08,-5.0),(524,-60.1,-5.05),(705,-60.12,-5.0),(949,-60.08,-5.05),
    (250,-60.08,-5.0),(336,-60.1,-5.05),(452,-60.12,-5.0),(608,-60.08,-5.05),(818,-60.1,-5.0),
    (232,-60.7,-5.15),(312,-60.72,-5.2),(420,-60.68,-5.15),(565,-60.7,-5.2),(760,-60.72,-5.15),(990,-60.68,-5.2),
    (269,-60.68,-5.15),(362,-60.7,-5.2),(487,-60.72,-5.15),(655,-60.68,-5.2),(881,-60.7,-5.15),
    (250,-61.3,-5.35),(336,-61.32,-5.4),(452,-61.28,-5.35),(608,-61.3,-5.4),(818,-61.32,-5.35),
    (290,-61.28,-5.35),(390,-61.3,-5.4),(524,-61.32,-5.35),(705,-61.28,-5.4),(949,-61.3,-5.35)]
c2_blue = [(42,-61.4,-6.0),(52,-61.7,-6.0),(85,-61.65,-5.9),(125,-61.55,-5.7),(170,-61.6,-5.55),(218,-61.65,-5.45),(268,-61.55,-5.4),
    (320,-61.6,-5.45),(373,-61.65,-5.4),(428,-61.55,-5.45),(484,-61.6,-5.5),(542,-61.65,-5.4),(602,-61.55,-5.45),(665,-61.6,-5.5),
    (730,-61.65,-5.4),(800,-61.55,-5.45),(873,-61.6,-5.5),(950,-61.65,-5.4),
    (43,-62.3,-5.5),(55,-62.3,-5.6),(72,-62.1,-6.0),(110,-62.15,-5.9),(155,-62.2,-5.75),(205,-62.25,-5.65),(258,-62.15,-5.6),
    (312,-62.2,-5.65),(368,-62.25,-5.55),(425,-62.15,-5.6),(483,-62.2,-5.65),(543,-62.25,-5.55),(606,-62.15,-5.6),(671,-62.2,-5.9),
    (740,-62.25,-5.55),(812,-62.15,-5.6),(888,-62.2,-5.65),(965,-62.25,-5.55),
    (52,-62.85,-6.2),(90,-62.85,-6.1),(135,-62.75,-5.95),(190,-62.8,-5.85),(250,-62.85,-5.75),(315,-62.75,-5.8),(380,-62.8,-5.75),
    (445,-62.85,-5.9),(512,-62.75,-5.75),(580,-62.8,-5.8),(652,-62.85,-5.75),(728,-62.75,-5.9),(808,-62.8,-5.75),(892,-62.85,-5.8),(975,-62.75,-5.75),
    (58,-63.4,-6.2),(105,-63.45,-6.1),(170,-63.35,-6.0),(240,-63.4,-5.95),(310,-63.45,-5.9),(385,-63.35,-5.95),(460,-63.4,-5.9),
    (540,-63.45,-6.3),(620,-63.35,-5.9),(705,-63.4,-5.95),(795,-63.45,-5.9),(890,-63.35,-5.95),
    (70,-64.2,-6.3),(114,-64.0,-6.2),(200,-64.05,-6.1),(290,-63.95,-6.05),(380,-64.0,-6.0),(470,-64.05,-6.05),(560,-63.95,-6.0),
    (660,-64.0,-6.05),(770,-64.05,-6.0),(890,-63.95,-6.05),
    (150,-64.6,-6.2),(260,-64.65,-6.15),(360,-64.55,-6.1),(470,-64.6,-6.15),(590,-64.65,-6.1),(720,-64.55,-6.15),(860,-64.6,-6.1),(985,-64.65,-6.15),
    (83,-65.7,-6.4),(127,-65.45,-6.3),(290,-65.2,-6.2),(370,-65.4,-6.25),(400,-65.3,-6.2),(668,-65.3,-6.2),(850,-65.0,-6.2),
    (900,-65.05,-6.15),(960,-64.9,-6.1),(125,-66.8,-6.6),(330,-66.1,-6.3),(445,-66.5,-6.5),(537,-65.85,-6.2)]

# ---------------- colour scale ----------------
cmap_pos = [0.0, 0.14, 0.27, 0.32, 0.42, 0.51, 0.60, 0.71, 0.85, 1.0]
cmap_col = ['#d85050', '#660000', '#e04000', '#ff8000', '#ffff00', '#99cc00', '#008000', '#00ffff', '#000066', '#4444d8']
cmap1 = LinearSegmentedColormap.from_list('lam', list(zip(cmap_pos, cmap_col)))
cmap2 = cmap1.reversed()

plt.rcParams['font.family'] = ['Liberation Serif', 'DejaVu Serif']
plt.rcParams['font.weight'] = 'bold'
plt.rcParams['mathtext.fontset'] = 'custom'
plt.rcParams['mathtext.rm'] = 'Liberation Serif:bold'
plt.rcParams['mathtext.it'] = 'Liberation Serif:italic:bold'
plt.rcParams['mathtext.bf'] = 'Liberation Serif:bold'
plt.rcParams['axes.linewidth'] = 1.5

W, H = 551, 1074
fig = plt.figure(figsize=(W / 100, H / 100), dpi=100)
ax1 = fig.add_axes([97 / W, 1 - 460 / H, 446 / W, 452 / H])
ax2 = fig.add_axes([97 / W, 1 - 1004 / H, 446 / W, 449 / H])

XE_COL = (0.89, 0.1, 0.1)
LZ_COL = (0.176, 0.451, 0.686)


def draw_panel(ax, groups, cmap, norm, xlim, ylim, xticks, yexp, case, cb_ticks, cb_labels, cb_title, leg_y):
    pts = [p for g in groups for p in g]
    m = np.array([p[0] for p in pts])
    e = np.array([p[1] for p in pts])
    c = np.array([p[2] for p in pts])
    ax.scatter(m, 10.0 ** e, c=10.0 ** c, cmap=cmap, norm=norm, marker='D', s=22, linewidths=0, zorder=2)

    ax.fill_between(lz_m, 10.0 ** np.array(lz_e), ylim[1], color=LZ_COL, alpha=0.5, lw=0, zorder=3)
    ax.plot(lz_m, 10.0 ** np.array(lz_e), color='#4a86c0', lw=0.8, zorder=3.1)
    ax.fill_between(xenon_m, 10.0 ** np.array(xenon_e), ylim[1], color=XE_COL, alpha=0.4, lw=0, zorder=3.2)
    ax.plot(xenon_m, 10.0 ** np.array(xenon_e), color=(0.92, 0.2, 0.2), lw=0.8, zorder=3.3)
    ax.plot(darwin_m, 10.0 ** np.array(darwin_e), color='red', ls=(0, (2.2, 1.2)), lw=2, zorder=4)

    ax.set_xscale('log')
    ax.set_yscale('log')
    ax.set_xlim(*xlim)
    ax.set_ylim(*ylim)
    ax.xaxis.set_major_locator(FixedLocator(xticks))
    ax.xaxis.set_minor_locator(LogLocator(base=10, subs=np.arange(2, 10), numticks=20))
    ax.xaxis.set_minor_formatter(NullFormatter())
    ax.set_xticklabels([str(int(t)) for t in xticks], fontweight='bold')
    ax.get_xticklabels()[-1].set_horizontalalignment('right')
    lo, hi = int(round(np.log10(ylim[0]))), int(round(np.log10(ylim[1])))
    ax.yaxis.set_major_locator(FixedLocator([10.0 ** k for k in yexp]))
    ax.yaxis.set_minor_locator(FixedLocator([10.0 ** k for k in range(lo, hi + 1)]))
    ax.yaxis.set_minor_formatter(NullFormatter())
    ax.set_yticklabels([r'$\mathbf{10^{%d}}$' % k for k in yexp])
    ax.tick_params(which='both', direction='in', top=True, right=True)
    ax.tick_params(which='major', length=8, width=1.3)
    ax.tick_params(which='minor', length=4, width=1.0)
    ax.tick_params(axis='x', labelsize=16, pad=7)
    ax.tick_params(axis='y', labelsize=15.5, pad=5)
    ax.set_ylabel('σ$_{\\rm SI}$ (cm$^{\\rm 2}$)', fontsize=17, fontweight='bold')
    ax.yaxis.set_label_coords(-0.155, 0.5)
    ax.set_xlabel('M$_{\\chi_{2}}$ (GeV)', fontsize=17, fontweight='bold')

    ax.text(0.126, 0.953, case, transform=ax.transAxes, ha='center', va='center', fontsize=17, fontweight='bold', zorder=6,
            bbox=dict(boxstyle='square,pad=0.13', fc='white', ec='black', lw=1.2))

    handles = [Patch(facecolor=(0.89, 0.1, 0.1, 0.4), edgecolor='none'),
               Patch(facecolor='#a0c0de', edgecolor='none'),
               Line2D([0], [0], color='red', lw=2)]
    ax.legend(handles, ['XENONnT', 'LZ', 'DARWIN (Proj.)'], loc='center left', bbox_to_anchor=(0.018, leg_y),
              frameon=False, prop={'size': 16.5, 'weight': 'bold'}, handlelength=0.22, handleheight=0.6,
              handletextpad=1.15, labelspacing=0.06, borderpad=0, borderaxespad=0)

    cax = ax.inset_axes([0.040, 0.020, 0.487, 0.050])
    sm = ScalarMappable(norm=norm, cmap=cmap)
    cb = fig.colorbar(sm, cax=cax, orientation='horizontal')
    cb.outline.set_linewidth(1.0)
    cax.xaxis.set_ticks_position('top')
    cb.set_ticks(cb_ticks)
    cb.set_ticklabels(cb_labels, fontweight='bold')
    cax.xaxis.set_minor_locator(LogLocator(base=10, subs=np.arange(2, 10), numticks=20))
    cax.xaxis.set_minor_formatter(NullFormatter())
    cax.tick_params(which='both', direction='in', top=True, bottom=False, labeltop=True, labelbottom=False)
    cax.tick_params(which='major', length=6, width=1.0, labelsize=16.5, pad=3)
    cax.tick_params(which='minor', length=3, width=0.8)
    ax.text(0.284, 0.172, cb_title, transform=ax.transAxes, ha='center', va='center', fontsize=17, fontweight='bold', zorder=6)


draw_panel(ax1, [c1_band_top, c1_band, c1_band_low, c1_outliers, c1_mid, c1_cloud_upper, c1_cloud_mid, c1_cloud_fill,
                 c1_cloud_low, c1_tail],
           cmap1, LogNorm(1e-3, 1.5), (1, 1000), (1e-60, 1e-42), [1, 10, 100, 1000], [-60, -57, -54, -51, -48, -45, -42],
           'Case-1', [1e-3, 1e-2, 1e-1, 1], [r'$\mathbf{10^{-3}}$', '0.01', '0.1', '1'], 'λ$_{\\chi}$', 0.332)
draw_panel(ax2, [c2_excluded, c2_orange, c2_yellow, c2_yellow_fill, c2_green, c2_green_fill, c2_cyan, c2_cyan_fill, c2_blue],
           cmap2, LogNorm(1e-7, 0.3), (10, 1000), (1e-68, 1e-42), [10, 100, 1000], [-66, -60, -54, -48, -42],
           'Case-2', [1e-7, 1e-5, 1e-3, 1e-1], [r'$\mathbf{10^{-7}}$', r'$\mathbf{10^{-5}}$', r'$\mathbf{10^{-3}}$', '0.1'],
           'sinθ', 0.334)

ax1.xaxis.set_label_coords(0.5, -0.077)
ax2.xaxis.set_label_coords(0.5, -0.085)

fig.savefig('out.png', dpi=100)
